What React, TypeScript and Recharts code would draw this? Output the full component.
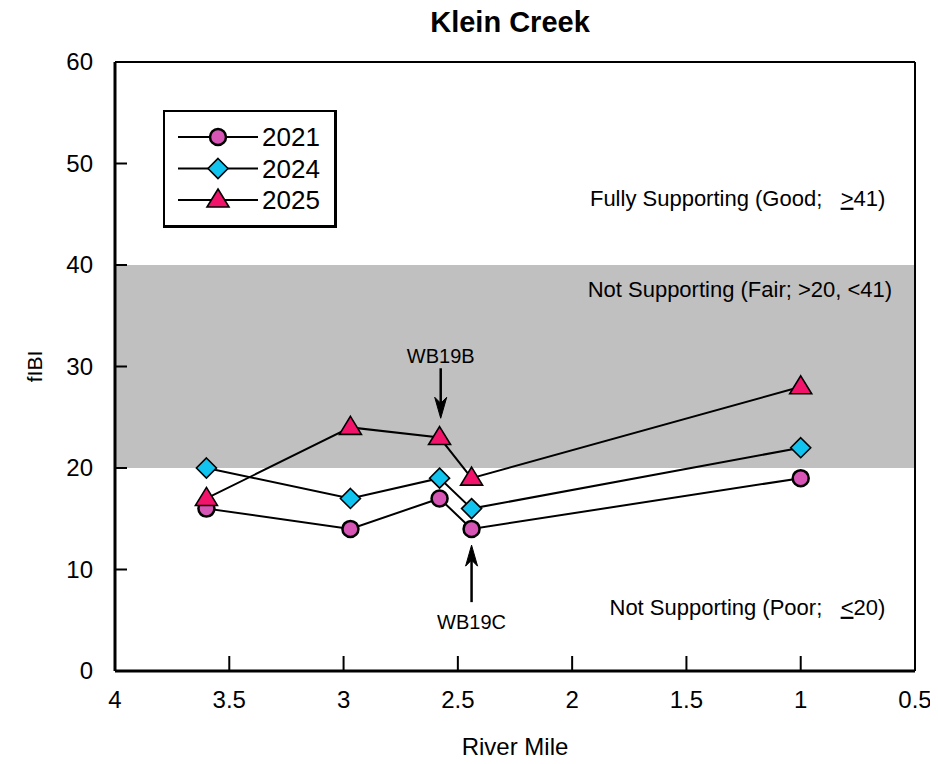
import React from 'react';
import { LineChart, Line, XAxis, YAxis, ReferenceArea, ReferenceLine, ReferenceDot, Legend } from 'recharts';

const miles = [3.6, 2.97, 2.58, 2.44, 1.0];
const fibi2021 = [16, 14, 17, 14, 19];
const fibi2024 = [20, 17, 19, 16, 22];
const fibi2025 = [17, 24, 23, 19, 28];
const xTicks = [4, 3.5, 3, 2.5, 2, 1.5, 1, 0.5];
const yTicks = [0, 10, 20, 30, 40, 50, 60];
const seriesNames = ['2021', '2024', '2025'];
const seriesKeys = ['y2021', 'y2024', 'y2025'];
const seriesColors = ['#d655b5', '#11c4f0', '#f2136b'];
const seriesShapes = ['circle', 'diamond', 'triangle'];
const bandRange = [20, 40];
const bandLabels = [
  { mile: 0.63, y: 46.6, pre: 'Fully Supporting (Good;\u00A0\u00A0\u00A0', u: '>', post: '41)' },
  { mile: 0.6, y: 37.6, pre: 'Not Supporting (Fair; >20, <41)', u: '', post: '' },
  { mile: 0.63, y: 6.3, pre: 'Not Supporting (Poor;\u00A0\u00A0\u00A0', u: '<', post: '20)' },
];
const annotations = [
  { label: 'WB19B', mile: 2.575, y: 24.9, dir: 'down' },
  { label: 'WB19C', mile: 2.44, y: 12.4, dir: 'up' },
];

const data = miles.map((m, i) => ({ mile: m, y2021: fibi2021[i], y2024: fibi2024[i], y2025: fibi2025[i] }));

const FONT = '"Liberation Sans", Arial, sans-serif';

function Marker({ shape, cx, cy, color }: any) {
  if (cx == null || cy == null) return null;
  if (shape === 'circle') {
    return <circle cx={cx} cy={cy} r={8} fill={color} stroke="#000" strokeWidth={2.5} />;
  }
  if (shape === 'diamond') {
    const d = 10;
    return (
      <polygon
        points={`${cx},${cy - d} ${cx + d},${cy} ${cx},${cy + d} ${cx - d},${cy}`}
        fill={color}
        stroke="#000"
        strokeWidth={1.6}
      />
    );
  }
  return (
    <polygon
      points={`${cx},${cy - 11} ${cx + 11},${cy + 7} ${cx - 11},${cy + 7}`}
      fill={color}
      stroke="#000"
      strokeWidth={1.6}
    />
  );
}

function XTick({ x, y, payload }: any) {
  return (
    <g>
      <line x1={x} x2={x} y1={y} y2={y - 15} stroke="#000" strokeWidth={2} />
      <text x={x} y={y + 29} dy="0.35em" textAnchor="middle" fontSize={24} fontFamily={FONT} fill="#000">
        {payload.value}
      </text>
    </g>
  );
}

function YTick({ x, y, payload }: any) {
  return (
    <g>
      <line x1={x} x2={x + 12} y1={y} y2={y} stroke="#000" strokeWidth={2} />
      <text x={x - 22} y={y} dy="0.35em" textAnchor="end" fontSize={24} fontFamily={FONT} fill="#000">
        {payload.value}
      </text>
    </g>
  );
}

function LegendBox() {
  return (
    <div
      style={{
        width: 174,
        height: 118,
        boxSizing: 'border-box',
        borderStyle: 'solid',
        borderColor: '#000',
        borderWidth: '2px 3px 3px 2px',
        background: '#fff',
      }}
    >
      <svg width={169} height={113} style={{ display: 'block' }}>
        {seriesNames.map((n, i) => {
          const cy = 25 + i * 31.5;
          return (
            <g key={n}>
              <line x1={13} x2={93} y1={cy} y2={cy} stroke="#000" strokeWidth={2} />
              <Marker shape={seriesShapes[i]} cx={53} cy={cy} color={seriesColors[i]} />
              <text x={97} y={cy} dy="0.36em" fontSize={26} fontFamily={FONT} fill="#000">
                {n}
              </text>
            </g>
          );
        })}
      </svg>
    </div>
  );
}

function bandShape(b: any) {
  return (p: any) => (
    <text x={p.cx} y={p.cy} dy="0.35em" textAnchor="end" fontSize={22} fontFamily={FONT} fill="#000">
      {b.pre}
      {b.u ? <tspan textDecoration="underline">{b.u}</tspan> : null}
      {b.post}
    </text>
  );
}

function annShape(a: any) {
  return (p: any) => {
    const { cx, cy } = p;
    const s = a.dir === 'down' ? -1 : 1;
    const shaftEnd = cy + s * (a.dir === 'down' ? 50 : 57);
    const textY = cy + s * (a.dir === 'down' ? 62 : 77);
    return (
      <g>
        <line x1={cx} x2={cx} y1={shaftEnd} y2={cy + s * 10} stroke="#000" strokeWidth={2.5} />
        <polygon
          points={`${cx},${cy} ${cx - 6},${cy + s * 21} ${cx},${cy + s * 15} ${cx + 6},${cy + s * 21}`}
          fill="#000"
          stroke="#000"
          strokeWidth={1}
        />
        <text x={cx} y={textY} dy="0.35em" textAnchor="middle" fontSize={20} fontFamily={FONT} fill="#000">
          {a.label}
        </text>
      </g>
    );
  };
}

export default function App() {
  return (
    <div style={{ position: 'relative', width: 930, height: 756, fontFamily: FONT }}>
      <div
        style={{
          position: 'absolute',
          left: 0,
          top: -1,
          width: 1004,
          textAlign: 'center',
          fontWeight: 'bold',
          fontSize: 29,
          lineHeight: '30px',
          color: '#000',
        }}
      >
        Klein Creek
      </div>
      <LineChart width={930} height={756} data={data} margin={{ top: 54, right: 23, bottom: 3, left: 47 }}>
        <ReferenceArea y1={bandRange[0]} y2={bandRange[1]} fill="#c0c0c0" fillOpacity={1} stroke="none" />
        <XAxis
          dataKey="mile"
          type="number"
          domain={[0.5, 4]}
          reversed
          ticks={xTicks}
          interval={0}
          allowDataOverflow
          height={90}
          tickSize={0}
          tickMargin={0}
          tickLine={false}
          axisLine={{ stroke: '#000', strokeWidth: 3 }}
          tick={<XTick />}
          label={{
            content: (p: any) => {
              const vb = p.viewBox;
              return (
                <text x={vb.x + vb.width / 2} y={739} dy="0.35em" textAnchor="middle" fontSize={24} fontFamily={FONT} fill="#000">
                  River Mile
                </text>
              );
            },
          }}
        />
        <YAxis
          type="number"
          domain={[0, 60]}
          ticks={yTicks}
          interval={0}
          width={60}
          tickSize={0}
          tickMargin={0}
          tickLine={false}
          axisLine={{ stroke: '#000', strokeWidth: 3 }}
          tick={<YTick />}
          label={{
            content: (p: any) => {
              const vb = p.viewBox;
              const cy = vb.y + vb.height / 2;
              return (
                <text x={27} y={cy} dy="0.35em" textAnchor="middle" fontSize={21} fontFamily={FONT} fill="#000" transform={`rotate(-90 27 ${cy})`}>
                  fIBI
                </text>
              );
            },
          }}
        />
        <ReferenceLine y={60} stroke="#000" strokeWidth={2} />
        <ReferenceLine x={0.5} stroke="#000" strokeWidth={2} />
        {bandLabels.map((b, i) => (
          <ReferenceDot key={'b' + i} x={b.mile} y={b.y} r={1} shape={bandShape(b)} />
        ))}
        {annotations.map((a, i) => (
          <ReferenceDot key={'a' + i} x={a.mile} y={a.y} r={1} shape={annShape(a)} />
        ))}
        {seriesKeys.map((k, i) => (
          <Line
            key={k}
            dataKey={k}
            name={seriesNames[i]}
            stroke="#000"
            strokeWidth={2}
            isAnimationActive={false}
            dot={(p: any) => <Marker key={k + p.index} shape={seriesShapes[i]} cx={p.cx} cy={p.cy} color={seriesColors[i]} />}
            activeDot={false}
          />
        ))}
        <Legend
          layout="vertical"
          align="center"
          verticalAlign="middle"
          wrapperStyle={{ left: 155, top: 102, width: 174, height: 118 }}
          content={() => <LegendBox />}
        />
      </LineChart>
    </div>
  );
}
